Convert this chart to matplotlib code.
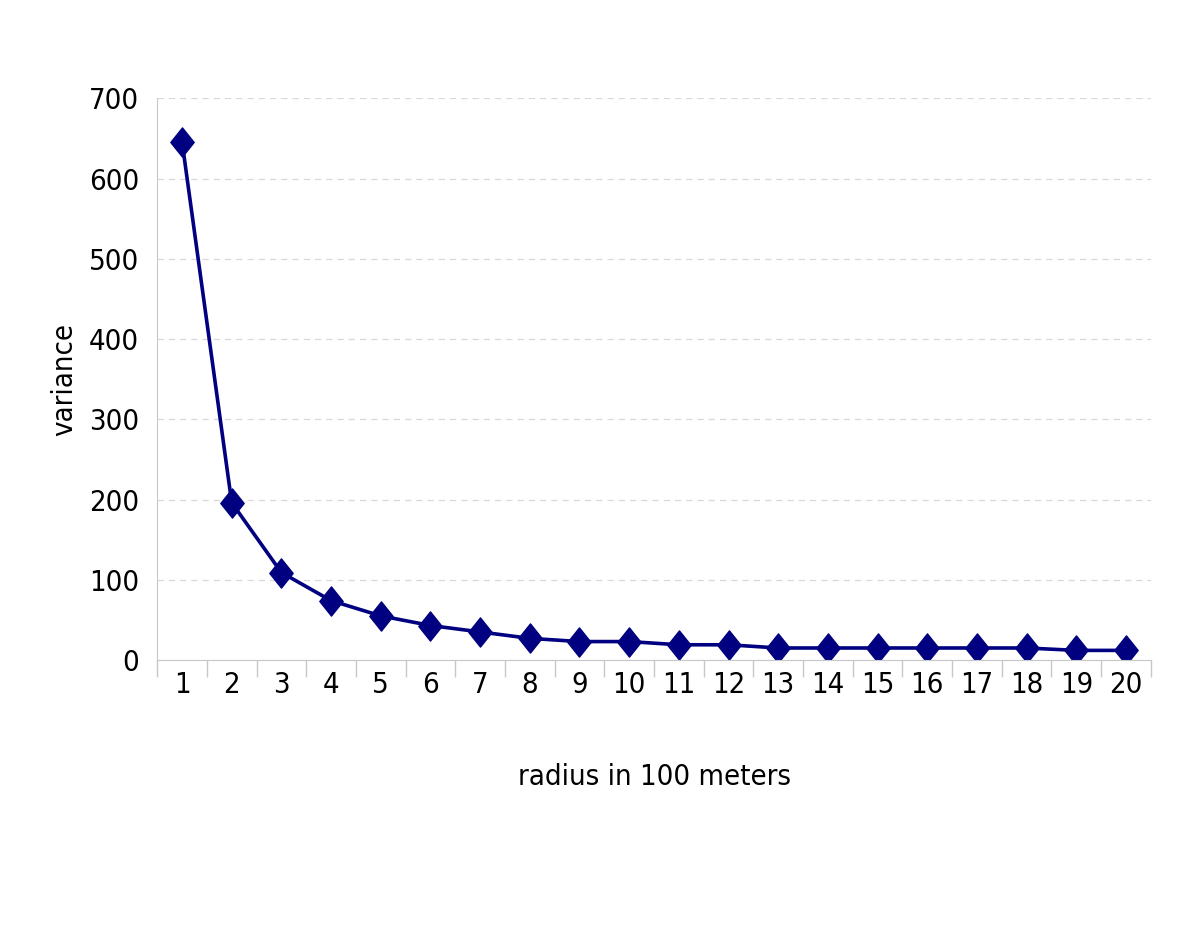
import matplotlib
matplotlib.use("Agg")
import matplotlib.pyplot as plt
from matplotlib.path import Path

radius = list(range(1, 21))
variance = [646, 196, 109, 74, 55, 43, 35, 27, 23, 23,
            19, 19, 15, 15, 15, 15, 15, 15, 12, 12]
yticks = [0, 100, 200, 300, 400, 500, 600, 700]

plt.rcParams['font.family'] = ['DejaVu Sans']
plt.rcParams['font.stretch'] = 'condensed'

fig = plt.figure(figsize=(12, 9.27), dpi=100)
ax = fig.add_axes([0.131, 0.288, 0.828, 0.606])

# diamond a bit taller than wide, like the spreadsheet marker
diamond = Path([(0, 1), (0.8, 0), (0, -1), (-0.8, 0), (0, 1)],
               [Path.MOVETO, Path.LINETO, Path.LINETO, Path.LINETO, Path.CLOSEPOLY])

ax.plot(radius, variance, color='#000080', lw=2.6, marker=diamond,
        markersize=21, markerfacecolor='#000080', markeredgecolor='#000080')

ax.set_xlim(0.5, 20.5)
ax.set_ylim(0, 700)
ax.set_yticks(yticks)
ax.set_xticks(radius)
ax.set_xticks([r + 0.5 for r in [0] + radius], minor=True)
ax.tick_params(axis='x', which='major', length=0, pad=8, labelsize=21)
ax.tick_params(axis='x', which='minor', length=12, color='#c8c8c8', width=1)
ax.tick_params(axis='y', length=0, pad=13, labelsize=21)

ax.grid(axis='y', color='#d8d8d8', ls=(0, (5, 4)), lw=0.9)
ax.set_axisbelow(True)
for s in ['top', 'right']:
    ax.spines[s].set_visible(False)
for s in ['left', 'bottom']:
    ax.spines[s].set_color('#c8c8c8')

ax.set_xlabel('radius in 100 meters', fontsize=21, labelpad=46)
ax.set_ylabel('variance', fontsize=21, labelpad=8)

plt.savefig('out.png', dpi=100)
